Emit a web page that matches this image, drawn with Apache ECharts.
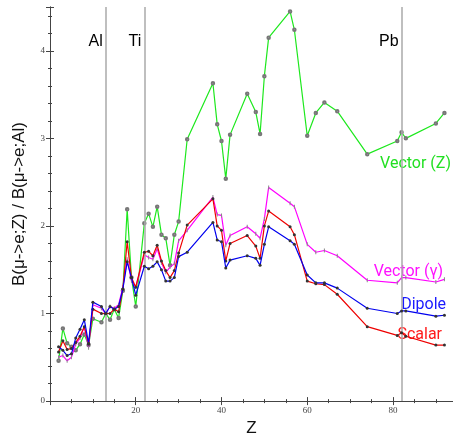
<!DOCTYPE html>
<html>
<head>
<meta charset="utf-8">
<script src="https://cdn.jsdelivr.net/npm/echarts@6/dist/echarts.min.js"></script>
<style>
  html, body { margin: 0; padding: 0; background: #fff; }
  #main { width: 453px; height: 442px; }
</style>
</head>
<body>
<div id="main"></div>
<script>
// nuclei (atomic number Z)
var zList = [2,3,4,5,6,7,8,9,10,12,13,14,15,16,17,18,19,20,22,23,24,25,26,27,28,29,30,32,
             38,39,40,41,42,46,48,49,50,51,56,57,60,62,64,67,74,81,82,83,90,92];

var vectorZ = [0.46,0.83,0.66,0.62,0.58,0.65,0.76,0.64,0.94,0.90,1.00,0.93,1.05,0.95,1.26,2.19,1.41,1.08,
               2.03,2.14,1.99,2.22,1.90,1.86,1.55,1.90,2.05,2.99,
               3.63,3.16,2.97,2.54,3.04,3.51,3.30,3.05,3.71,4.15,4.45,4.24,3.03,3.29,3.41,3.31,2.82,2.97,3.07,3.00,3.17,3.29];
var vectorG = [0.50,0.52,0.46,0.50,0.65,0.72,0.85,0.61,1.10,1.06,1.00,1.08,1.06,1.10,1.30,1.62,1.37,1.30,
               1.67,1.64,1.62,1.74,1.58,1.47,1.53,1.57,1.83,1.95,
               2.33,2.13,2.12,1.78,1.89,1.99,1.91,1.86,2.08,2.44,2.26,2.22,1.79,1.70,1.72,1.66,1.38,1.35,1.41,1.41,1.36,1.39];
var dipole  = [0.62,0.58,0.52,0.54,0.72,0.82,0.93,0.66,1.13,1.08,1.00,1.08,1.05,1.08,1.28,1.59,1.41,1.21,
               1.54,1.51,1.54,1.59,1.50,1.37,1.37,1.41,1.65,1.70,
               2.04,1.84,1.82,1.52,1.61,1.66,1.63,1.55,1.79,1.99,1.83,1.79,1.44,1.35,1.35,1.29,1.06,1.00,1.03,1.03,0.97,0.98];
var scalar  = [0.56,0.69,0.59,0.60,0.67,0.74,0.85,0.65,1.05,1.00,1.00,1.00,1.05,1.02,1.28,1.82,1.41,1.30,
               1.70,1.71,1.66,1.78,1.60,1.49,1.41,1.49,1.69,2.01,
               2.31,2.00,1.95,1.60,1.80,1.89,1.77,1.63,2.00,2.17,1.99,1.90,1.37,1.34,1.33,1.22,0.85,0.75,0.78,0.74,0.64,0.64];

// reference nuclei drawn as vertical lines
var refNames = ['Al','Ti','Pb'];
var refZ = [13,22,82];
var refLabelY = 4.11;

var yTicks = [0,1,2,3,4];

function pairs(vals) {
  var out = [];
  for (var i = 0; i < zList.length; i++) out.push([zList[i], vals[i]]);
  return out;
}

var chart = echarts.init(document.getElementById('main'));

var frameLine = { show: true, lineStyle: { color: '#444', width: 1 } };
var tickLabelStyle = { fontFamily: 'Liberation Serif', fontSize: 9, color: '#444' };

var option = {
  animation: false,
  grid: { left: 50, top: 7, width: 405, height: 403 },
  xAxis: [
    {
      type: 'value', min: 0, max: 94, interval: 20,
      name: 'Z', nameLocation: 'middle', nameGap: 13,
      nameTextStyle: { fontFamily: 'Liberation Sans', fontSize: 17, color: '#111' },
      axisLine: frameLine,
      axisTick: { inside: true, length: 4, lineStyle: { color: '#444' } },
      minorTick: { show: true, splitNumber: 4, length: 2, lineStyle: { color: '#444' } },
      axisLabel: Object.assign({ margin: 5, showMaxLabel: false,
        formatter: function (v) { return v === 0 ? '' : v; } }, tickLabelStyle),
      splitLine: { show: false }
    },
    {
      type: 'value', min: 0, max: 94, interval: 20, position: 'top',
      axisLine: frameLine,
      axisTick: { inside: true, length: 4, lineStyle: { color: '#444' } },
      minorTick: { show: true, splitNumber: 4, length: 2, lineStyle: { color: '#444' } },
      axisLabel: { show: false },
      splitLine: { show: false }
    }
  ],
  yAxis: [
    {
      type: 'value', min: 0, max: 4.5, interval: 1,
      name: 'B(μ->e;Z) / B(μ->e;Al)', nameLocation: 'middle', nameGap: 22,
      nameTextStyle: { fontFamily: 'Liberation Sans', fontSize: 17, color: '#111' },
      axisLine: frameLine,
      axisTick: { inside: true, length: 4, lineStyle: { color: '#444' } },
      minorTick: { show: true, splitNumber: 5, length: 2, lineStyle: { color: '#444' } },
      axisLabel: Object.assign({ margin: 5, showMaxLabel: false,
        formatter: function (v) { return yTicks.indexOf(v) >= 0 ? v : ''; } }, tickLabelStyle),
      splitLine: { show: false }
    },
    {
      type: 'value', min: 0, max: 4.5, interval: 1, position: 'right',
      axisLine: frameLine,
      axisTick: { inside: true, length: 4, lineStyle: { color: '#444' } },
      minorTick: { show: true, splitNumber: 5, length: 2, lineStyle: { color: '#444' } },
      axisLabel: { show: false },
      splitLine: { show: false }
    }
  ],
  graphic: [
    { type: 'text', style: { x: 451, y: 164, text: 'Vector (Z)', textAlign: 'right', textVerticalAlign: 'middle',
      font: '16px Roboto', fill: '#22e022' } },
    { type: 'text', style: { x: 443, y: 272, text: 'Vector (γ)', textAlign: 'right', textVerticalAlign: 'middle',
      font: '16px Roboto', fill: '#ff10ff' } },
    { type: 'text', style: { x: 446, y: 305, text: 'Dipole', textAlign: 'right', textVerticalAlign: 'middle',
      font: '16px Roboto', fill: '#1a1aff' } },
    { type: 'text', style: { x: 442, y: 335, text: 'Scalar', textAlign: 'right', textVerticalAlign: 'middle',
      font: '16px Roboto', fill: '#ff1a1a' } }
  ],
  series: [
    {
      name: 'refs', type: 'scatter', symbolSize: 0, z: 1,
      itemStyle: { opacity: 1 },
      data: refNames.map(function (n, i) { return { name: n, value: [refZ[i], refLabelY] }; }),
      label: { show: true, position: 'left', distance: 3, formatter: '{b}',
        fontFamily: 'Liberation Sans', fontSize: 16, color: '#000', opacity: 1 },
      markLine: {
        silent: true, symbol: 'none', animation: false,
        label: { show: false },
        lineStyle: { color: '#aaa', width: 1.5, type: 'solid', opacity: 1 },
        data: refZ.map(function (z) { return { xAxis: z }; })
      }
    },
    {
      name: 'Vector (Z)', type: 'line', data: pairs(vectorZ), z: 3,
      symbol: 'emptyCircle', symbolSize: 2.5,
      itemStyle: { color: '#777', borderWidth: 0.8 },
      lineStyle: { color: '#1de81d', width: 1.2 }
    },
    {
      name: 'Vector (γ)', type: 'line', data: pairs(vectorG), z: 4,
      symbol: 'rect', symbolSize: [1, 4],
      itemStyle: { color: '#888' },
      lineStyle: { color: '#ff00ff', width: 1.2 }
    },
    {
      name: 'Scalar', type: 'line', data: pairs(scalar), z: 5,
      symbol: 'circle', symbolSize: 3,
      itemStyle: { color: '#333' },
      lineStyle: { color: '#ee0000', width: 1.2 }
    },
    {
      name: 'Dipole', type: 'line', data: pairs(dipole), z: 6,
      symbol: 'circle', symbolSize: 3,
      itemStyle: { color: '#333' },
      lineStyle: { color: '#0000ee', width: 1.2 }
    }
  ]
};

chart.setOption(option);
</script>
</body>
</html>
